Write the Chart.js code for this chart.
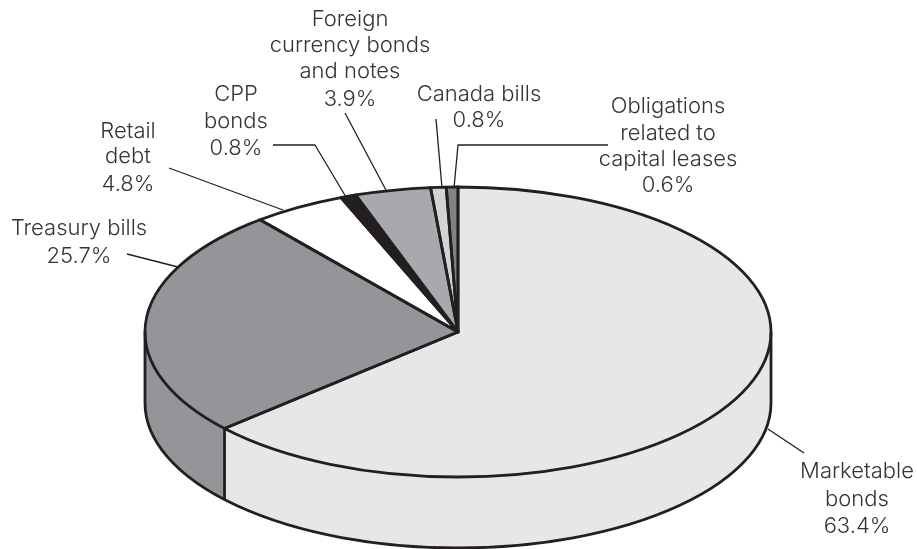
<!DOCTYPE html>
<html>
<head>
    <title>Federal debt composition</title>
    <meta charset="utf-8">
    <script src="https://cdn.jsdelivr.net/npm/chart.js"></script>
    <style>
        html, body { margin: 0; padding: 0; background: #fff; }
        canvas { display: block; }
    </style>
</head>
<body>
    <canvas id="debtPie" width="917" height="549"></canvas>
    <script>
        // Data, clockwise from the top of the pie
        var categories = ['Marketable bonds', 'Treasury bills', 'Retail debt', 'CPP bonds',
            'Foreign currency bonds and notes', 'Canada bills', 'Obligations related to capital leases'];
        var shares = [63.4, 25.7, 4.8, 0.8, 3.9, 0.8, 0.6];
        var labelLines = [
            ['Marketable', 'bonds'],
            ['Treasury bills'],
            ['Retail', 'debt'],
            ['CPP', 'bonds'],
            ['Foreign', 'currency bonds', 'and notes'],
            ['Canada bills'],
            ['Obligations', 'related to', 'capital leases']
        ];

        var sliceColors = ['#e6e7e8', '#939598', '#ffffff', '#231f20', '#a7a9ac', '#d1d3d4', '#808285'];
        var inkColor = '#231f20';
        var textColor = '#363435';

        // Tilt of the pie: ellipse height / width, and wall height in px
        var squash = 145 / 313;
        var wallDepth = 71;

        // Label placement: centre x and baseline of every line
        var labelX = [857, 79, 128, 236, 350, 479, 668];
        var labelY = [
            [478, 506, 533],
            [235, 263],
            [138, 163, 191],
            [101, 128, 155],
            [26, 52, 78, 106],
            [101, 127],
            [113, 140, 166, 192]
        ];
        var leaders = [
            [[768, 429], [804, 453]],
            [[127, 254], [178, 267]],
            [[169, 168], [283, 210]],
            [[273, 145], [315, 145], [346, 197]],
            [[345, 113], [387, 192]],
            [[436, 119], [442, 188]],
            [[608, 145], [458, 145], [454, 188]]
        ];

        var tiltedPie = {
            id: 'tiltedPie',
            beforeDatasetDraw: function (chart, args) {
                var ctx = chart.ctx;
                var arcs = args.meta.data;
                var cx = arcs[0].x, cy = arcs[0].y, r = arcs[0].outerRadius;

                function tilt(offset) {
                    ctx.translate(cx, cy + offset);
                    ctx.scale(1, squash);
                    ctx.translate(-cx, -cy);
                }

                function point(angle, offset) {
                    return [cx + r * Math.cos(angle), cy + offset + r * squash * Math.sin(angle)];
                }

                // Wall: the library's arcs stacked downwards, top face last
                for (var d = wallDepth; d >= 0; d--) {
                    ctx.save();
                    tilt(d);
                    arcs.forEach(function (arc) { arc.draw(ctx); });
                    ctx.restore();
                }

                // Outlines are stroked without the squash so the width stays even
                ctx.strokeStyle = inkColor;
                ctx.lineWidth = 2.8;
                ctx.lineJoin = 'round';

                ctx.save();
                tilt(wallDepth);
                ctx.beginPath();
                ctx.arc(cx, cy, r, 0, Math.PI);
                ctx.restore();
                ctx.stroke();

                // Vertical edges at both sides and where the two lower slices meet the wall
                [0, Math.PI, arcs[0].endAngle].forEach(function (angle) {
                    var top = point(angle, 0), bottom = point(angle, wallDepth);
                    ctx.beginPath();
                    ctx.moveTo(top[0], top[1]);
                    ctx.lineTo(bottom[0], bottom[1]);
                    ctx.stroke();
                });

                arcs.forEach(function (arc) {
                    ctx.save();
                    tilt(0);
                    ctx.beginPath();
                    ctx.moveTo(cx, cy);
                    ctx.arc(cx, cy, r, arc.startAngle, arc.endAngle);
                    ctx.closePath();
                    ctx.restore();
                    ctx.stroke();
                });

                return false;
            },
            afterDraw: function (chart) {
                var ctx = chart.ctx;
                ctx.save();

                ctx.strokeStyle = inkColor;
                ctx.lineWidth = 1.3;
                leaders.forEach(function (path) {
                    ctx.beginPath();
                    path.forEach(function (p, i) {
                        if (i === 0) ctx.moveTo(p[0], p[1]);
                        else ctx.lineTo(p[0], p[1]);
                    });
                    ctx.stroke();
                });

                ctx.fillStyle = textColor;
                ctx.font = '300 22px Inter, "Liberation Sans", sans-serif';
                ctx.textAlign = 'center';
                ctx.textBaseline = 'alphabetic';
                labelLines.forEach(function (lines, i) {
                    var all = lines.concat(shares[i].toFixed(1) + '%');
                    all.forEach(function (text, j) {
                        ctx.fillText(text, labelX[i], labelY[i][j]);
                    });
                });
                ctx.restore();
            }
        };

        var ctx = document.getElementById('debtPie').getContext('2d');
        var debtPie = new Chart(ctx, {
            type: 'pie',
            data: {
                labels: categories,
                datasets: [{
                    data: shares,
                    backgroundColor: sliceColors,
                    borderWidth: 0,
                    radius: 313
                }]
            },
            options: {
                responsive: false,
                animation: false,
                events: [],
                layout: { padding: { top: 115, right: 1 } },
                plugins: {
                    legend: { display: false },
                    title: { display: false },
                    tooltip: { enabled: false }
                }
            },
            plugins: [tiltedPie]
        });
    </script>
</body>
</html>
